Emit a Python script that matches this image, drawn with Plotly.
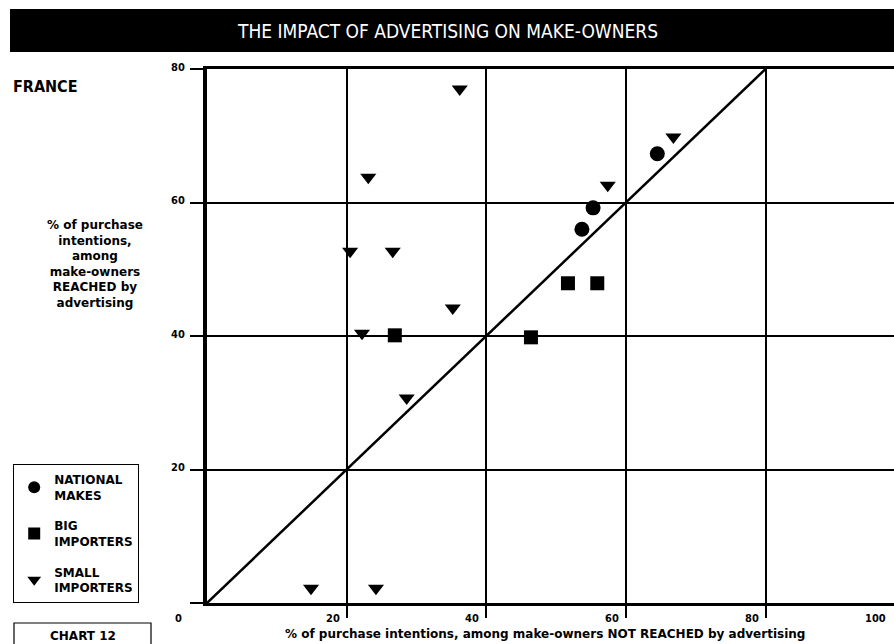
import plotly.graph_objects as go

# ---------------- data ----------------
national_x = [64.5, 55.3, 53.7]
national_y = [67.3, 59.2, 56.0]

big_x = [26.9, 46.4, 51.7, 55.9]
big_y = [40.1, 39.8, 47.9, 47.9]

small_x = [36.2, 23.1, 20.5, 26.6, 35.2, 22.2, 28.6, 14.9, 24.2, 57.4, 66.8]
small_y = [77.0, 63.8, 52.7, 52.7, 44.2, 40.4, 30.7, 2.2, 2.2, 62.6, 69.8]

diag_x = [0, 80]
diag_y = [0, 80]

x_tick_vals = [20, 40, 60, 80, 100]
x_tick_text = ["20", "40", "60", "80", "100"]
y_tick_vals = [0, 20, 40, 60, 80]
y_tick_text = ["0", "20", "40", "60", "80"]

series_names = ["NATIONAL<br>MAKES", "BIG<br>IMPORTERS", "SMALL<br>IMPORTERS"]

title_text = "THE IMPACT OF ADVERTISING ON MAKE-OWNERS"
country_text = "FRANCE"
x_title = "% of purchase intentions, among make-owners NOT REACHED by advertising"
y_title = "% of purchase<br>intentions,<br>among<br>make-owners<br>REACHED by<br>advertising"
chart_label = "CHART 12"

# ---------------- layout geometry (pixels) ----------------
W, H = 894, 644
L, R, T, B = 207, 0, 69, 41
PW = W - L - R
PH = H - T - B
X_MAX = 98.4


def px(x):
    return (x - L) / PW


def py(y):
    return (H - B - y) / PH


NARROW = "Liberation Sans Narrow, DejaVu Sans Condensed, Arial Narrow, sans-serif"
WIDE = "DejaVu Sans, Verdana, sans-serif"

fig = go.Figure()

fig.add_trace(go.Scatter(
    x=diag_x, y=diag_y, mode="lines",
    line=dict(color="black", width=2.5),
    showlegend=False, hoverinfo="skip", cliponaxis=False,
))
fig.add_trace(go.Scatter(
    x=national_x, y=national_y, mode="markers", name=series_names[0],
    legendgroup="a",
    marker=dict(symbol="circle", size=15, color="black"),
))
fig.add_trace(go.Scatter(
    x=big_x, y=big_y, mode="markers", name=series_names[1],
    legendgroup="b",
    marker=dict(symbol="square", size=14, color="black"),
))
fig.add_trace(go.Scatter(
    x=small_x, y=small_y, mode="markers", name=series_names[2],
    legendgroup="c",
    marker=dict(symbol="triangle-down", size=14, color="black"),
))

annotations = []
shapes = []

# title bar
shapes.append(dict(type="rect", xref="paper", yref="paper",
                   x0=px(10), x1=px(W + 2), y0=py(52), y1=py(9),
                   fillcolor="black", line=dict(width=0), layer="above"))
annotations.append(dict(xref="paper", yref="paper", x=px(447), y=py(31),
                        text=title_text, showarrow=False,
                        xanchor="center", yanchor="middle",
                        font=dict(family=NARROW, size=19, color="white")))

annotations.append(dict(xref="paper", yref="paper", x=px(11), y=py(87),
                        text="<b>" + country_text + "</b>", showarrow=False,
                        xanchor="left", yanchor="middle",
                        font=dict(family=NARROW, size=16, color="black")))

annotations.append(dict(xref="paper", yref="paper", x=px(95), y=py(264),
                        text="<b>" + y_title + "</b>", showarrow=False,
                        xanchor="center", yanchor="middle", align="center",
                        font=dict(family=WIDE, size=12, color="black")))

annotations.append(dict(xref="paper", yref="paper", x=px(545), y=py(634),
                        text="<b>" + x_title + "</b>", showarrow=False,
                        xanchor="center", yanchor="middle",
                        font=dict(family=WIDE, size=12, color="black")))

# tick labels (x positions converted from axis values to plot fraction)
for v, t in zip(x_tick_vals, x_tick_text):
    frac = v / X_MAX
    shift = -5 if frac <= 1 else -5 - min(20, round((frac - 1) * PW) + 1)
    annotations.append(dict(xref="paper", yref="paper", x=frac, y=0, yshift=-15,
                            text="<b>" + t + "</b>", showarrow=False,
                            xanchor="right", yanchor="middle", xshift=shift,
                            font=dict(family=NARROW, size=11, color="black")))
for v, t in zip(y_tick_vals, y_tick_text):
    annotations.append(dict(xref="paper", yref="y", x=0, y=v,
                            xshift=-29, yshift=(-15 if v == 0 else 2),
                            text="<b>" + t + "</b>", showarrow=False,
                            xanchor="center", yanchor="middle",
                            font=dict(family=NARROW, size=11, color="black")))

# chart label box
shapes.append(dict(type="rect", xref="paper", yref="paper",
                   x0=px(14), x1=px(151), y0=py(H + 10), y1=py(623),
                   fillcolor="white", line=dict(color="black", width=1.2)))
annotations.append(dict(xref="paper", yref="paper", x=px(83), y=py(636),
                        text="<b>" + chart_label + "</b>", showarrow=False,
                        xanchor="center", yanchor="middle",
                        font=dict(family=WIDE, size=12, color="black")))

fig.update_layout(
    width=W, height=H,
    margin=dict(l=L, r=R, t=T, b=B, pad=0),
    paper_bgcolor="white", plot_bgcolor="white",
    annotations=annotations, shapes=shapes,
    legend=dict(
        x=px(13), y=py(464), xanchor="left", yanchor="top",
        bgcolor="white", bordercolor="black", borderwidth=1.2,
        font=dict(family=WIDE, size=12, color="black", weight="bold"),
        tracegroupgap=12, itemsizing="constant",
    ),
    xaxis=dict(
        range=[0, X_MAX],
        tickvals=x_tick_vals[:-1], showticklabels=False,
        ticks="outside", ticklen=12, tickwidth=1.5, tickcolor="black",
        showgrid=True, gridcolor="black", gridwidth=1.5,
        showline=True, linecolor="black", linewidth=3, mirror=True,
        zeroline=False, fixedrange=True,
    ),
    yaxis=dict(
        range=[0, 80],
        tickvals=y_tick_vals, showticklabels=False,
        ticks="outside", ticklen=13, tickwidth=1.5, tickcolor="black",
        showgrid=True, gridcolor="black", gridwidth=1.5,
        showline=True, linecolor="black", linewidth=3.5,
        zeroline=False, fixedrange=True,
    ),
)

fig.write_html(
    "out.html",
    config={"displayModeBar": False},
    post_script="document.body.style.margin='0';document.body.style.overflow='hidden';",
)
